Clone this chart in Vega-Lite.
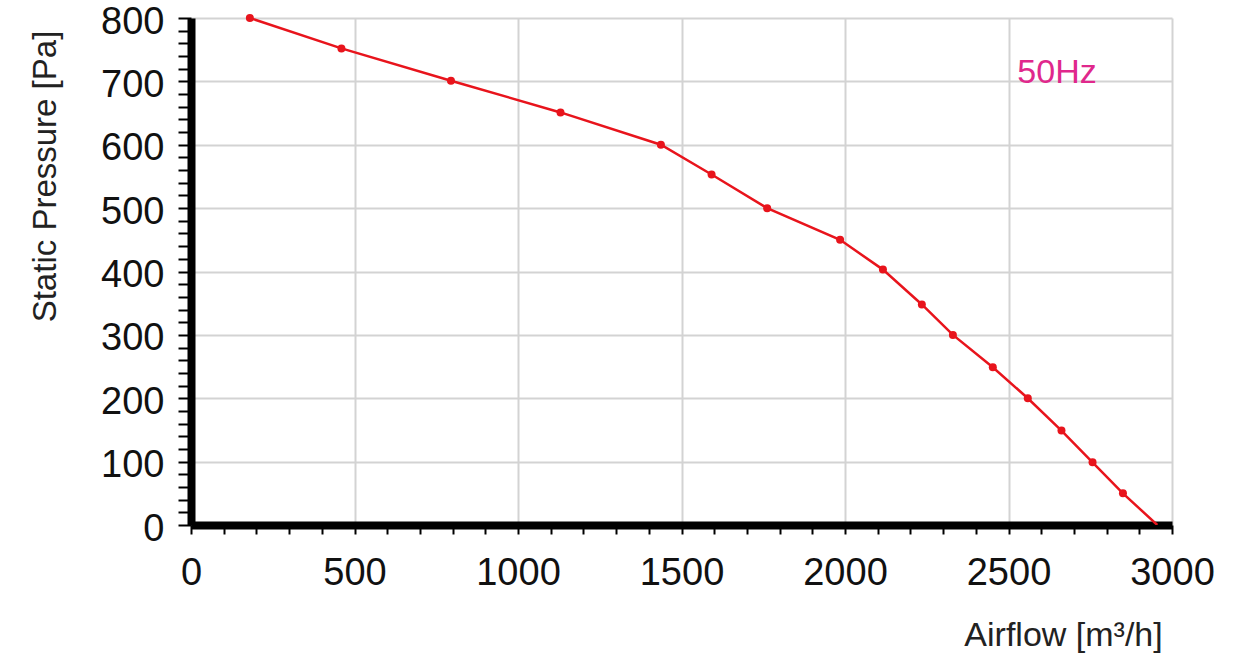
{
  "$schema": "https://vega.github.io/schema/vega-lite/v6.json",
  "width": 981,
  "height": 507,
  "autosize": {"type": "none"},
  "padding": {"left": 191, "top": 18, "right": 63, "bottom": 145},
  "background": "white",
  "config": {
    "view": {"stroke": null},
    "font": "Liberation Sans",
    "axis": {"labelFont": "Liberation Sans", "titleFont": "Liberation Sans", "labelColor": "#111", "titleColor": "#222", "titleFontWeight": "normal"}
  },
  "datasets": {
    "curve": [
      {"airflow": 180, "pressure": 800},
      {"airflow": 460, "pressure": 752},
      {"airflow": 795, "pressure": 701},
      {"airflow": 1130, "pressure": 651},
      {"airflow": 1437, "pressure": 600},
      {"airflow": 1592, "pressure": 553},
      {"airflow": 1762, "pressure": 500},
      {"airflow": 1985, "pressure": 450},
      {"airflow": 2116, "pressure": 403},
      {"airflow": 2235, "pressure": 348},
      {"airflow": 2330, "pressure": 300},
      {"airflow": 2452, "pressure": 249},
      {"airflow": 2559, "pressure": 200},
      {"airflow": 2662, "pressure": 149},
      {"airflow": 2757, "pressure": 99},
      {"airflow": 2850, "pressure": 50},
      {"airflow": 2955, "pressure": 0}
    ],
    "legend": [
      {"airflow": 2527, "pressure": 697, "label": "50Hz"}
    ]
  },
  "layer": [
    {
      "data": {"name": "curve"},
      "mark": {"type": "line", "color": "#e8141c", "strokeWidth": 2.5, "interpolate": "linear", "clip": true},
      "encoding": {
        "x": {
          "field": "airflow", "type": "quantitative",
          "scale": {"domain": [0, 3000], "nice": false, "zero": true},
          "axis": {
            "title": "Airflow [m³/h]",
            "values": [0,100,200,300,400,500,600,700,800,900,1000,1100,1200,1300,1400,1500,1600,1700,1800,1900,2000,2100,2200,2300,2400,2500,2600,2700,2800,2900,3000],
            "tickCount": 200,
            "labelExpr": "datum.value % 500 === 0 ? datum.label : ''",
            "format": "d",
            "labelOverlap": false,
            "labelBound": false,
            "labelFlush": false,
            "labelFontSize": 38,
            "labelBaseline": "top",
            "labelPadding": 20,
            "tickSize": 9,
            "tickWidth": 2,
            "tickColor": "black",
            "domainColor": "black",
            "domainWidth": 8,
            "grid": true,
            "gridColor": "#d3d3d3",
            "gridWidth": 2,
            "gridOpacity": {"condition": {"test": "datum.value % 500 === 0", "value": 1}, "value": 0},
            "titleFontSize": 34,
            "titleX": 872,
            "titleY": 110,
            "titleAlign": "center",
            "titleBaseline": "middle"
          }
        },
        "y": {
          "field": "pressure", "type": "quantitative",
          "scale": {"domain": [0, 800], "nice": false},
          "axis": {
            "title": "Static Pressure [Pa]",
            "values": [0,20,40,60,80,100,120,140,160,180,200,220,240,260,280,300,320,340,360,380,400,420,440,460,480,500,520,540,560,580,600,620,640,660,680,700,720,740,760,780,800],
            "tickCount": 200,
            "labelExpr": "datum.value % 100 === 0 ? datum.label : ''",
            "format": "d",
            "labelOverlap": false,
            "labelBound": false,
            "labelFlush": false,
            "labelFontSize": 38,
            "labelPadding": 14,
            "labelOffset": 4,
            "tickSize": 13,
            "tickWidth": 2,
            "tickColor": "black",
            "domainColor": "black",
            "domainWidth": 8,
            "grid": true,
            "gridColor": "#d3d3d3",
            "gridWidth": 2,
            "gridOpacity": {"condition": {"test": "datum.value % 100 === 0", "value": 1}, "value": 0},
            "titleFontSize": 33,
            "titleX": -146,
            "titleY": 158,
            "titleAngle": -90,
            "titleAlign": "center",
            "titleBaseline": "middle"
          }
        }
      }
    },
    {
      "data": {"name": "curve"},
      "transform": [{"filter": "datum.pressure > 0"}],
      "mark": {"type": "circle", "color": "#e8141c", "size": 64, "opacity": 1},
      "encoding": {
        "x": {"field": "airflow", "type": "quantitative"},
        "y": {"field": "pressure", "type": "quantitative"}
      }
    },
    {
      "data": {"name": "legend"},
      "mark": {"type": "text", "color": "#e0288c", "fontSize": 34, "align": "left", "baseline": "alphabetic", "font": "Liberation Sans"},
      "encoding": {
        "x": {"field": "airflow", "type": "quantitative"},
        "y": {"field": "pressure", "type": "quantitative"},
        "text": {"field": "label"}
      }
    }
  ]
}
